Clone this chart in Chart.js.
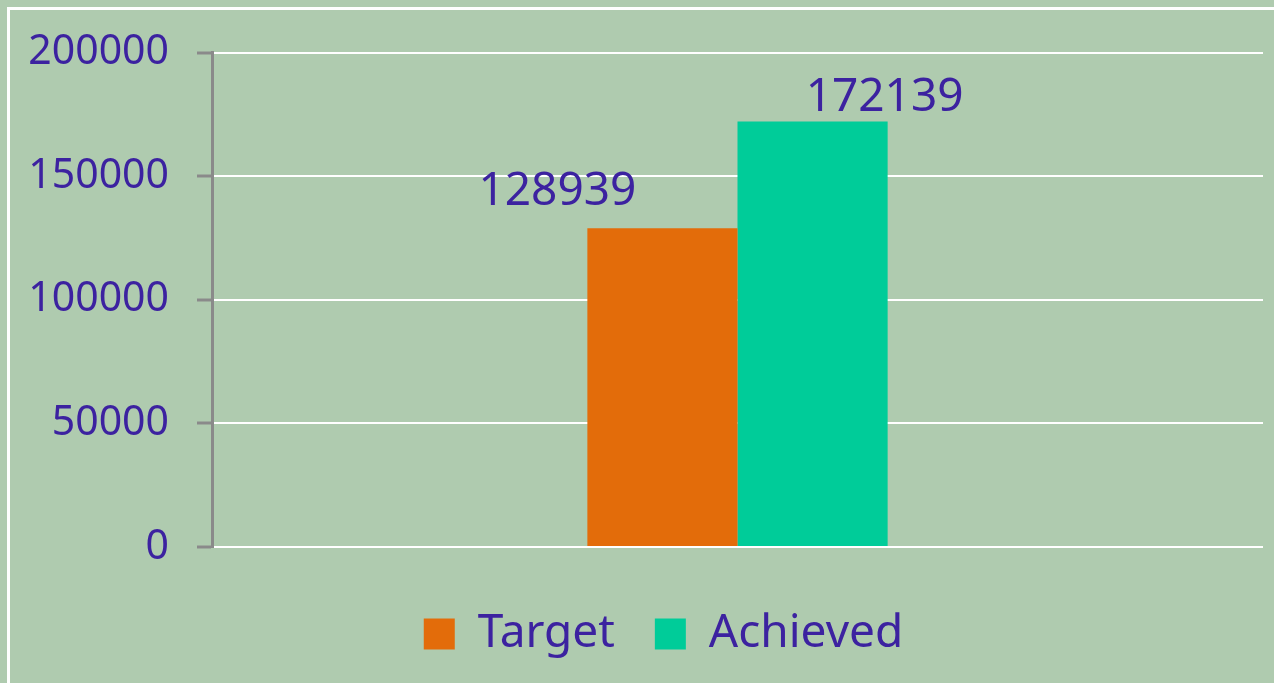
<!DOCTYPE html>
<html>
<head>
<meta charset="utf-8">
<script src="https://cdn.jsdelivr.net/npm/chart.js@4/dist/chart.umd.min.js"></script>
<style>
  html, body { margin: 0; padding: 0; background: #AFCBAF; overflow: hidden; }
  #frame {
    position: absolute; left: 7px; top: 7px; width: 1300px; height: 700px;
    border-top: 3px solid #fff; border-left: 3px solid #fff;
  }
  #wrap { position: absolute; left: 0; top: 0; width: 1274px; height: 683px; }
</style>
</head>
<body>
<div id="frame"></div>
<div id="wrap"><canvas id="mychart" width="1274" height="683"></canvas></div>
<script>
"use strict";
const CATEGORIES = [""];
const SERIES_NAMES = ["Target", "Achieved"];
const TARGET = [128939];
const ACHIEVED = [172139];
const Y_TICKS = [0, 50000, 100000, 150000, 200000];

const TEXT = "#3C22A0";
const FONT = "'Noto Sans', 'Open Sans', sans-serif";

//value labels drawn over each bar, placed like the original
const valueLabels = {
    id: "valueLabels",
    afterDatasetsDraw(chart) {
        const ctx = chart.ctx;
        const shifts = [[-105, -36], [72, -24]];
        ctx.save();
        ctx.font = "46px " + FONT;
        ctx.fillStyle = TEXT;
        ctx.textAlign = "center";
        ctx.textBaseline = "middle";
        chart.data.datasets.forEach((ds, i) => {
            chart.getDatasetMeta(i).data.forEach((bar, j) => {
                ctx.fillText(String(ds.data[j]), bar.x + shifts[i][0], bar.y + shifts[i][1]);
            });
        });
        ctx.restore();
    }
};

//the original legend sits a bit right of the canvas centre
const legendShift = {
    id: "legendShift",
    afterLayout(chart) {
        chart.legend.left += 64;
    }
};

new Chart(document.getElementById("mychart"), {
    type: "bar",
    data: {
        labels: CATEGORIES,
        datasets: [
            {label: SERIES_NAMES[0], data: TARGET, backgroundColor: "#E36C0A"},
            {label: SERIES_NAMES[1], data: ACHIEVED, backgroundColor: "#00CC99"}
        ]
    },
    options: {
        responsive: false,
        animation: false,
        layout: {padding: {top: 46, right: 11, left: 0, bottom: 16}},
        datasets: {bar: {categoryPercentage: 0.2857, barPercentage: 1.0}},
        plugins: {
            tooltip: {enabled: false},
            legend: {
                position: "bottom",
                labels: {
                    color: TEXT,
                    font: {family: FONT, size: 46},
                    boxWidth: 31,
                    boxHeight: 31,
                    padding: 40
                }
            }
        },
        scales: {
            x: {
                afterFit: s => { s.height = 24; },
                grid: {display: false},
                border: {display: false},
                ticks: {display: false}
            },
            y: {
                min: 0,
                max: 200000,
                afterBuildTicks: s => { s.ticks = Y_TICKS.map(v => ({value: v})); },
                afterFit: s => { s.width = 212; },
                grid: {color: "#ffffff", lineWidth: 2, tickColor: "#8a8a8a", tickLength: 15, tickWidth: 3},
                border: {color: "#8a8a8a", width: 3},
                ticks: {
                    color: TEXT,
                    font: {family: FONT, size: 41},
                    padding: 28,
                    callback: v => String(v)
                }
            }
        }
    },
    plugins: [valueLabels, legendShift]
});
</script>
</body>
</html>
